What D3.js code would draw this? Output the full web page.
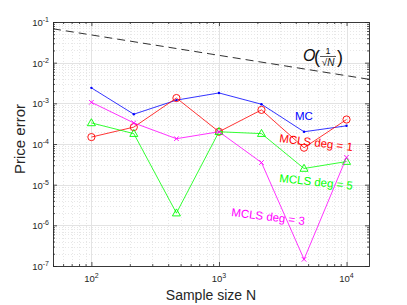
<!DOCTYPE html>
<html>
<head>
<meta charset="utf-8">
<script src="https://cdn.jsdelivr.net/npm/d3@7"></script>
<style>
	body { margin: 0; background: #fff; }
	svg text { font-family: "Liberation Sans", Arial, sans-serif; }
</style>
</head>
<body>
<div id="chart"></div>
<script>
// sample sizes (log spaced) and price errors
var sampleSizes = [100, 215, 464, 1000, 2154, 4642, 10000];
var mcErr   = [2.4e-3, 5.4e-4, 1.2e-3, 1.8e-3, 9.5e-4, 2.0e-4, 2.8e-4];
var deg1Err = [1.48e-4, 2.6e-4, 1.35e-3, 2.0e-4, 6.9e-4, 8.1e-5, 4.0e-4];
var deg3Err = [1.06e-3, 3.3e-4, 1.35e-4, 2.0e-4, 3.5e-5, 1.46e-7, 4.7e-5];
var deg5Err = [3.3e-4, 1.8e-4, 2.0e-6, 2.0e-4, 1.8e-4, 2.5e-5, 3.7e-5];
// reference slope O(1/sqrt(N)), end points only
var refN   = [50, 15000];
var refErr = [0.068, 0.0039];

var xTickVals = [1e2, 1e3, 1e4];
var yTickVals = [1e-7, 1e-6, 1e-5, 1e-4, 1e-3, 1e-2, 1e-1];

var W = 407, H = 305;
var margin = {top: 22, right: 38, bottom: 39, left: 53};
var pw = W - margin.left - margin.right,
    ph = H - margin.top - margin.bottom;

var svg = d3.select("#chart").append("svg")
	.attr("width", W)
	.attr("height", H);

var x = d3.scaleLog().domain([50, 15000]).range([0, pw]);
var y = d3.scaleLog().domain([1e-7, 1e-1]).range([ph, 0]);

var g = svg.append("g")
	.attr("transform", "translate(" + margin.left + "," + margin.top + ")");

function isMajor(v) {
	var l = Math.log10(v);
	return Math.abs(l - Math.round(l)) < 1e-6;
}

// grid
var xMinor = x.ticks().filter(function(d) { return !isMajor(d); });
var yMinor = y.ticks().filter(function(d) { return !isMajor(d); });

var grid = g.append("g").attr("class", "grid");
grid.selectAll(".xminor").data(xMinor).enter().append("line")
	.attr("x1", function(d) { return Math.round(x(d)) + 0.5; })
	.attr("x2", function(d) { return Math.round(x(d)) + 0.5; })
	.attr("y1", 0).attr("y2", ph)
	.attr("stroke", "#dcdcdc").attr("stroke-width", 0.7)
	.attr("stroke-dasharray", "1,2");
grid.selectAll(".yminor").data(yMinor).enter().append("line")
	.attr("y1", function(d) { return Math.round(y(d)) + 0.5; })
	.attr("y2", function(d) { return Math.round(y(d)) + 0.5; })
	.attr("x1", 0).attr("x2", pw)
	.attr("stroke", "#dcdcdc").attr("stroke-width", 0.7)
	.attr("stroke-dasharray", "1,2");
grid.selectAll(".xmajor").data(xTickVals).enter().append("line")
	.attr("x1", function(d) { return Math.round(x(d)) + 0.5; })
	.attr("x2", function(d) { return Math.round(x(d)) + 0.5; })
	.attr("y1", 0).attr("y2", ph)
	.attr("stroke", "#e3e3e3").attr("stroke-width", 1);
grid.selectAll(".ymajor").data(yTickVals).enter().append("line")
	.attr("y1", function(d) { return Math.round(y(d)) + 0.5; })
	.attr("y2", function(d) { return Math.round(y(d)) + 0.5; })
	.attr("x1", 0).attr("x2", pw)
	.attr("stroke", "#e3e3e3").attr("stroke-width", 1);

// axes, ticks inward on all sides
function drawAxis(axisGen, tr) {
	var a = g.append("g").attr("transform", tr).call(axisGen);
	a.select(".domain").remove();
	a.selectAll("line").attr("stroke", "#262626").attr("stroke-width", 0.8);
	return a;
}
var tickFmt = function() { return ""; };
var axes = [
	[d3.axisBottom(x).tickValues(xTickVals).tickSize(-4), "translate(0," + ph + ")"],
	[d3.axisTop(x).tickValues(xTickVals).tickSize(-4), "translate(0,0)"],
	[d3.axisBottom(x).tickValues(xMinor).tickSize(-2), "translate(0," + ph + ")"],
	[d3.axisTop(x).tickValues(xMinor).tickSize(-2), "translate(0,0)"],
	[d3.axisLeft(y).tickValues(yTickVals).tickSize(-4), "translate(0,0)"],
	[d3.axisRight(y).tickValues(yTickVals).tickSize(-4), "translate(" + pw + ",0)"],
	[d3.axisLeft(y).tickValues(yMinor).tickSize(-2), "translate(0,0)"],
	[d3.axisRight(y).tickValues(yMinor).tickSize(-2), "translate(" + pw + ",0)"]
];
axes.forEach(function(a) {
	var ax = drawAxis(a[0].tickFormat(tickFmt), a[1]);
	ax.selectAll("text").remove();
});

g.append("rect")
	.attr("x", 0.5).attr("y", 0.5)
	.attr("width", pw).attr("height", ph)
	.attr("fill", "none")
	.attr("stroke", "#262626").attr("stroke-width", 0.9);

// tick labels 10^k
var tickColor = "#262626";
g.selectAll(".xlab").data(xTickVals).enter().append("text")
	.attr("x", function(d) { return x(d); })
	.attr("y", ph + 16)
	.attr("text-anchor", "middle")
	.attr("fill", tickColor)
	.attr("font-size", 9.5)
	.each(function(d) {
		var t = d3.select(this);
		t.append("tspan").text("10");
		t.append("tspan").attr("dy", -4).attr("font-size", 7).text(Math.round(Math.log10(d)));
	});
g.selectAll(".ylab").data(yTickVals).enter().append("text")
	.attr("x", -4)
	.attr("y", function(d) { return y(d) + 4; })
	.attr("text-anchor", "end")
	.attr("fill", tickColor)
	.attr("font-size", 9.5)
	.each(function(d) {
		var t = d3.select(this);
		t.append("tspan").text("10");
		t.append("tspan").attr("dy", -4).attr("font-size", 7).text(Math.round(Math.log10(d)));
	});

// axis titles
svg.append("text")
	.attr("x", margin.left + x(1000) - 8)
	.attr("y", 300)
	.attr("text-anchor", "middle")
	.attr("font-size", 14)
	.attr("fill", tickColor)
	.text("Sample size N");
svg.append("text")
	.attr("transform", "translate(25," + 139 + ") rotate(-90)")
	.attr("text-anchor", "middle")
	.attr("font-size", 15)
	.attr("fill", tickColor)
	.text("Price error");

// reference line
var line = d3.line()
	.x(function(d) { return x(d[0]); })
	.y(function(d) { return y(d[1]); });

g.append("path")
	.datum(d3.zip(refN, refErr))
	.attr("d", line)
	.attr("fill", "none")
	.attr("stroke", "#1a1a1a")
	.attr("stroke-width", 0.9)
	.attr("stroke-dasharray", "8,5");

// series
var series = [
	{name: "MC",   vals: mcErr,   color: "#0000ff", marker: "dot"},
	{name: "deg1", vals: deg1Err, color: "#ff0000", marker: "circle"},
	{name: "deg5", vals: deg5Err, color: "#00ff00", marker: "triangle"},
	{name: "deg3", vals: deg3Err, color: "#ff00ff", marker: "cross"}
];

series.forEach(function(s) {
	var pts = d3.zip(sampleSizes, s.vals);
	var sg = g.append("g").attr("class", "series " + s.name);
	sg.append("path")
		.datum(pts)
		.attr("d", line)
		.attr("fill", "none")
		.attr("stroke", s.color)
		.attr("stroke-width", 0.8);
	var m = sg.selectAll(".pt").data(pts).enter().append("g")
		.attr("transform", function(d) { return "translate(" + x(d[0]) + "," + y(d[1]) + ")"; });
	if (s.marker == "dot") {
		m.append("circle").attr("r", 1.2).attr("fill", s.color);
	} else if (s.marker == "circle") {
		m.append("circle").attr("r", 3.6)
			.attr("fill", "none").attr("stroke", s.color).attr("stroke-width", 0.9);
	} else if (s.marker == "triangle") {
		m.append("path").attr("d", "M 0 -4.2 L 4 2.8 L -4 2.8 Z")
			.attr("fill", "none").attr("stroke", s.color).attr("stroke-width", 0.9);
	} else {
		m.append("path").attr("d", "M -2.3 -2.3 L 2.3 2.3 M -2.3 2.3 L 2.3 -2.3")
			.attr("stroke", s.color).attr("stroke-width", 0.9);
	}
});

// in-plot labels
var labels = [
	{text: "MC",           color: "#0000ff", x: 295, y: 120, rot: 0},
	{text: "MCLS deg = 1", color: "#ff0000", x: 279, y: 142, rot: 7},
	{text: "MCLS deg = 5", color: "#00ff00", x: 279, y: 182, rot: 6},
	{text: "MCLS deg = 3", color: "#ff00ff", x: 231, y: 216, rot: 7}
];
svg.selectAll(".lbl").data(labels).enter().append("text")
	.attr("transform", function(d) { return "translate(" + d.x + "," + d.y + ") rotate(" + d.rot + ")"; })
	.attr("font-size", 11.5)
	.attr("fill", function(d) { return d.color; })
	.text(function(d) { return d.text; });

// O(1/sqrt(N)) annotation
var ann = svg.append("g").attr("fill", "#111");
ann.append("text").attr("x", 303).attr("y", 61)
	.attr("font-family", "'Liberation Serif', 'DejaVu Serif', serif")
	.attr("font-style", "italic").attr("font-size", 16).text("O");
ann.append("text").attr("x", 314).attr("y", 63)
	.attr("font-family", "'Liberation Serif', 'DejaVu Serif', serif")
	.attr("font-size", 18).text("(");
ann.append("text").attr("x", 328).attr("y", 54)
	.attr("text-anchor", "middle")
	.attr("font-family", "'Liberation Serif', 'DejaVu Serif', serif")
	.attr("font-size", 9).text("1");
ann.append("line").attr("x1", 320).attr("x2", 336).attr("y1", 56.5).attr("y2", 56.5)
	.attr("stroke", "#111").attr("stroke-width", 0.7);
ann.append("text").attr("x", 328).attr("y", 66)
	.attr("text-anchor", "middle")
	.attr("font-family", "'Liberation Serif', 'DejaVu Serif', serif")
	.attr("font-size", 10)
	.each(function() {
		var t = d3.select(this);
		t.append("tspan").text("\u221A");
		t.append("tspan").attr("font-style", "italic").text("N");
	});
ann.append("text").attr("x", 337).attr("y", 63)
	.attr("font-family", "'Liberation Serif', 'DejaVu Serif', serif")
	.attr("font-size", 18).text(")");
</script>
</body>
</html>
